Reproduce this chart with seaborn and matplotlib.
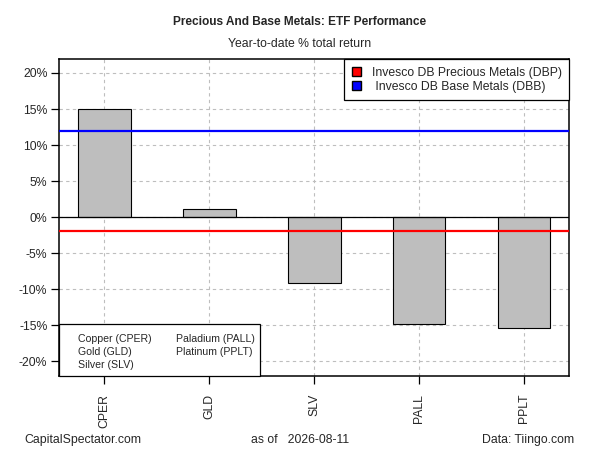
import matplotlib
matplotlib.use("Agg")
import matplotlib.pyplot as plt
from matplotlib.patches import Patch, Rectangle
from matplotlib.ticker import FuncFormatter
import seaborn as sns
import pandas as pd

# year-to-date % total return
tickers = ["CPER", "GLD", "SLV", "PALL", "PPLT"]
returns = [15.0, 1.1, -9.2, -14.9, -15.4]
names_col1 = ["Copper (CPER)", "Gold (GLD)", "Silver (SLV)"]
names_col2 = ["Paladium (PALL)", "Platinum (PPLT)"]
dbp = -1.9   # Invesco DB Precious Metals
dbb = 12.0   # Invesco DB Base Metals
yticks = [-20, -15, -10, -5, 0, 5, 10, 15, 20]

sns.set_style("white")
plt.rcParams["font.family"] = ["Liberation Sans", "DejaVu Sans"]
fs = 8.8

df = pd.DataFrame({"ticker": tickers, "ret": returns})

W, H = 600, 450
L, R, T, B = 59.3, 569.3, 59.3, 376.3
fig, ax = plt.subplots(figsize=(6, 4.5), dpi=100)
fig.subplots_adjust(left=L / W, right=R / W, top=1 - T / H, bottom=1 - B / H)

sns.barplot(data=df, x="ticker", y="ret", color="#bebebe", edgecolor="black",
            linewidth=0.8, width=0.5, saturation=1, ax=ax, zorder=2)
ax.grid(True, axis="both", color="#bebebe", linestyle=(0, (3, 3)), linewidth=0.8)
ax.set_axisbelow(True)
ax.axhline(0, color="black", linewidth=0.9, zorder=3)
ax.axhline(dbb, color="blue", linewidth=1.6, zorder=4)
ax.axhline(dbp, color="red", linewidth=1.6, zorder=4)

ax.set_xlim(-0.43, 4.43)
ax.set_ylim(-22.1, 21.9)
ax.set_yticks(yticks)
ax.yaxis.set_major_formatter(FuncFormatter(lambda v, p: f"{v:.0f}%"))
ax.set_xlabel("")
ax.set_ylabel("")
ax.tick_params(axis="x", rotation=90, length=5.5, width=0.9, direction="out", bottom=True,
               color="black", labelsize=fs, pad=7)
ax.tick_params(axis="y", length=5.5, width=0.9, direction="out", left=True,
               color="black", labelsize=fs, pad=3)
for s in ax.spines.values():
    s.set_color("black")
    s.set_linewidth(1.1)

h1 = [Patch(facecolor="red", edgecolor="black"), Patch(facecolor="blue", edgecolor="black")]
leg1 = ax.legend(h1, ["Invesco DB Precious Metals (DBP)", " Invesco DB Base Metals (DBB)"],
                 loc="upper right", borderaxespad=0, fancybox=False, edgecolor="black",
                 framealpha=1, handlelength=0.75, handleheight=0.75, labelspacing=0.2,
                 handletextpad=0.9, fontsize=fs, borderpad=0.6)
leg1.get_frame().set_linewidth(0.9)
leg1.set_zorder(6)

# lower-left key of fund names (text only)
def axfrac(px, py):
    return (px - L) / (R - L), (B - py) / (B - T)

x0, y0 = axfrac(L, B)
x1, y1 = axfrac(260, 324.3)
ax.add_patch(Rectangle((x0, y0), x1 - x0, y1 - y0, transform=ax.transAxes, facecolor="white",
                       edgecolor="black", linewidth=0.9, zorder=5, clip_on=False))
kfs = 7.6
for i, n in enumerate(names_col1):
    ax.text(*axfrac(78, 339.3 + 13 * i), n, transform=ax.transAxes, fontsize=kfs,
            ha="left", va="center", zorder=6)
for i, n in enumerate(names_col2):
    ax.text(*axfrac(176, 339.3 + 13 * i), n, transform=ax.transAxes, fontsize=kfs,
            ha="left", va="center", zorder=6)

fig.text(0.5, 1 - 22 / H, "Precious And Base Metals: ETF Performance", ha="center", va="center",
         fontsize=8.6, fontweight="bold")
fig.text(0.5, 1 - 44 / H, "Year-to-date % total return", ha="center", va="center", fontsize=fs)
fig.text(24 / W, 1 - 440 / H, "CapitalSpectator.com", ha="left", va="center", fontsize=fs)
fig.text(0.5, 1 - 440 / H, "as of   2026-08-11", ha="center", va="center", fontsize=fs)
fig.text(574 / W, 1 - 440 / H, "Data: Tiingo.com", ha="right", va="center", fontsize=fs)

fig.savefig("out.png", dpi=100)
